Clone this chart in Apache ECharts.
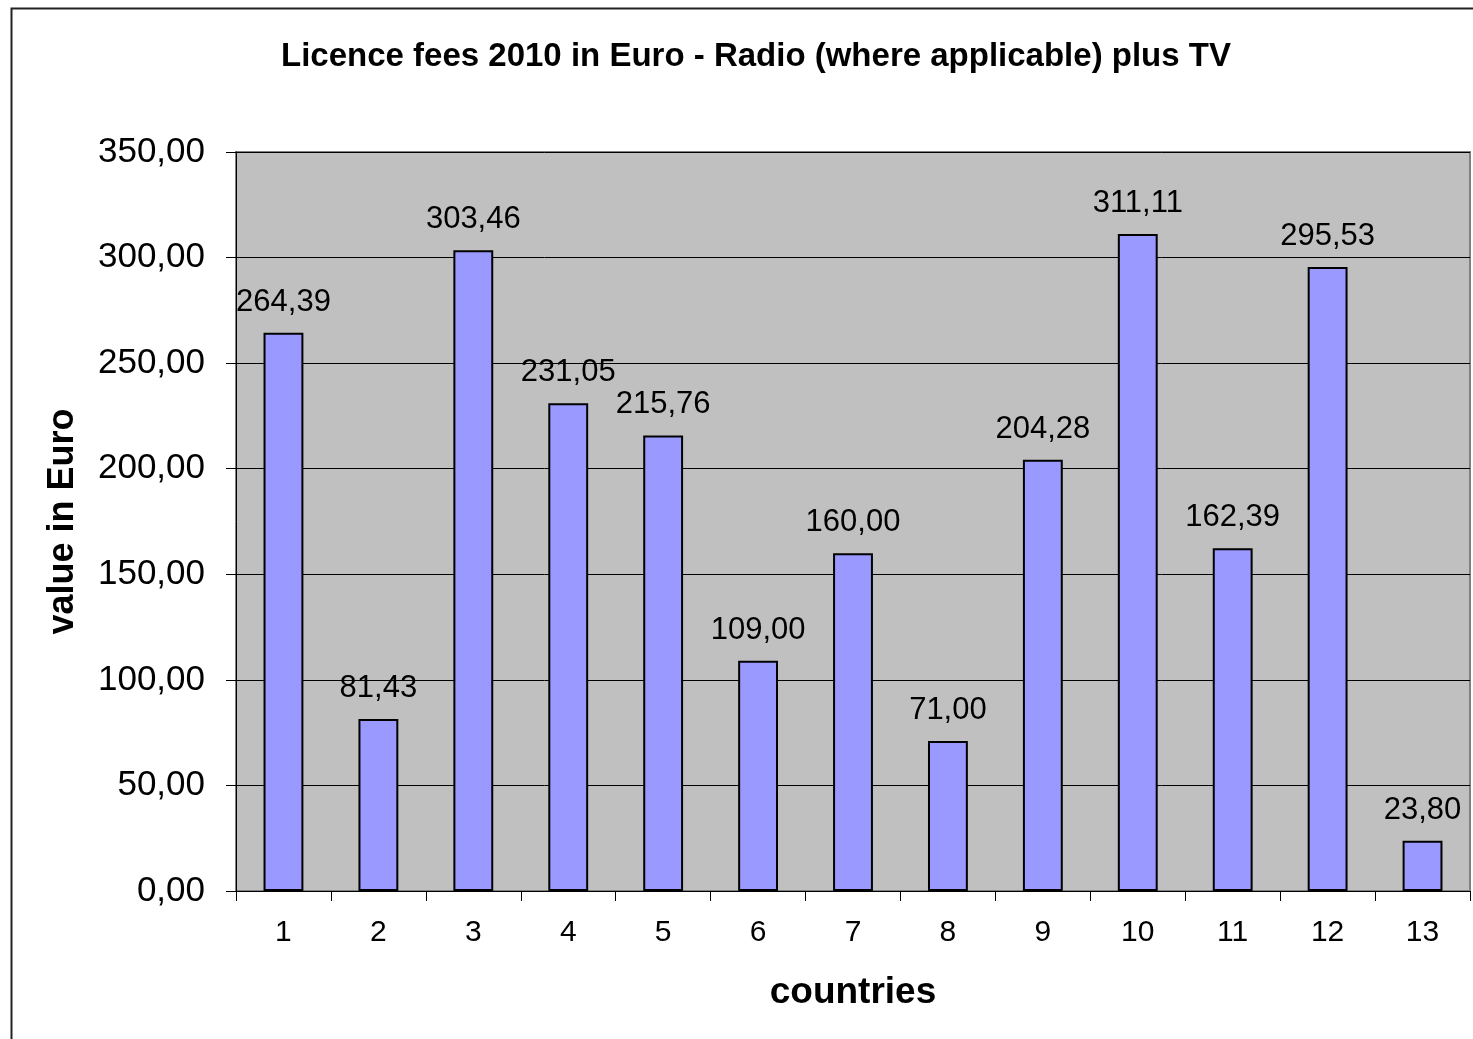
<!DOCTYPE html>
<html>
<head>
<meta charset="utf-8">
<script src="https://cdn.jsdelivr.net/npm/echarts@6/dist/echarts.min.js"></script>
<style>html,body{margin:0;padding:0;background:#fff}#c{width:1473px;height:1039px}</style>
</head>
<body>
<div id="c"></div>
<script>
const categories = ['1','2','3','4','5','6','7','8','9','10','11','12','13'];
const fees = [264.39, 81.43, 303.46, 231.05, 215.76, 109.00, 160.00, 71.00, 204.28, 311.11, 162.39, 295.53, 23.80];
const titleText = 'Licence fees 2010 in Euro - Radio (where applicable) plus TV';
const yName = 'value in Euro';
const xName = 'countries';

const fmt = v => Number(v).toFixed(2).replace('.', ',');
const chart = echarts.init(document.getElementById('c'));
chart.setOption({
  animation: false,
  backgroundColor: '#ffffff',
  graphic: [{
    type: 'rect', left: 9, top: 6, z: -10,
    shape: { width: 1500, height: 1100 },
    style: { fill: 'none', stroke: '#222', lineWidth: 2 }
  }],
  title: {
    text: titleText, left: 751, top: 35, textAlign: 'center',
    textStyle: { fontFamily: 'Liberation Sans, Arial', fontWeight: 'bold', fontSize: 33, color: '#000' }
  },
  grid: {
    left: 236, right: 3, top: 152, bottom: 148, show: true,
    backgroundColor: '#c0c0c0', borderColor: '#808080', borderWidth: 2
  },
  xAxis: {
    type: 'category', data: categories,
    name: xName, nameLocation: 'middle', nameGap: 83,
    nameTextStyle: { fontFamily: 'Liberation Sans, Arial', fontWeight: 'bold', fontSize: 37, color: '#000' },
    axisLine: { show: true, lineStyle: { color: '#000', width: 1 } },
    axisTick: { show: true, alignWithLabel: false, length: 10, lineStyle: { color: '#000' } },
    axisLabel: { fontFamily: 'Liberation Sans, Arial', fontSize: 30, color: '#000', margin: 27 }
  },
  yAxis: {
    type: 'value', min: 0, max: 350, interval: 50,
    name: yName, nameLocation: 'middle', nameGap: 155, nameRotate: 90,
    nameTextStyle: { fontFamily: 'Liberation Sans, Arial', fontWeight: 'bold', fontSize: 36, color: '#000' },
    axisLine: { show: true, lineStyle: { color: '#000', width: 1 } },
    axisTick: { show: true, length: 10, lineStyle: { color: '#000' } },
    axisLabel: { fontFamily: 'Liberation Sans, Arial', fontSize: 35, color: '#000', margin: 31, formatter: fmt },
    splitLine: { show: true, lineStyle: { color: '#000', width: 1 } }
  },
  series: [{
    type: 'bar', data: fees, barWidth: '42%',
    itemStyle: { color: '#9999ff', borderColor: '#000', borderWidth: 2 },
    label: {
      show: true, position: 'top', distance: 15,
      fontFamily: 'Liberation Sans, Arial', fontSize: 31, color: '#000',
      formatter: p => fmt(p.value)
    }
  }]
});
</script>
</body>
</html>
